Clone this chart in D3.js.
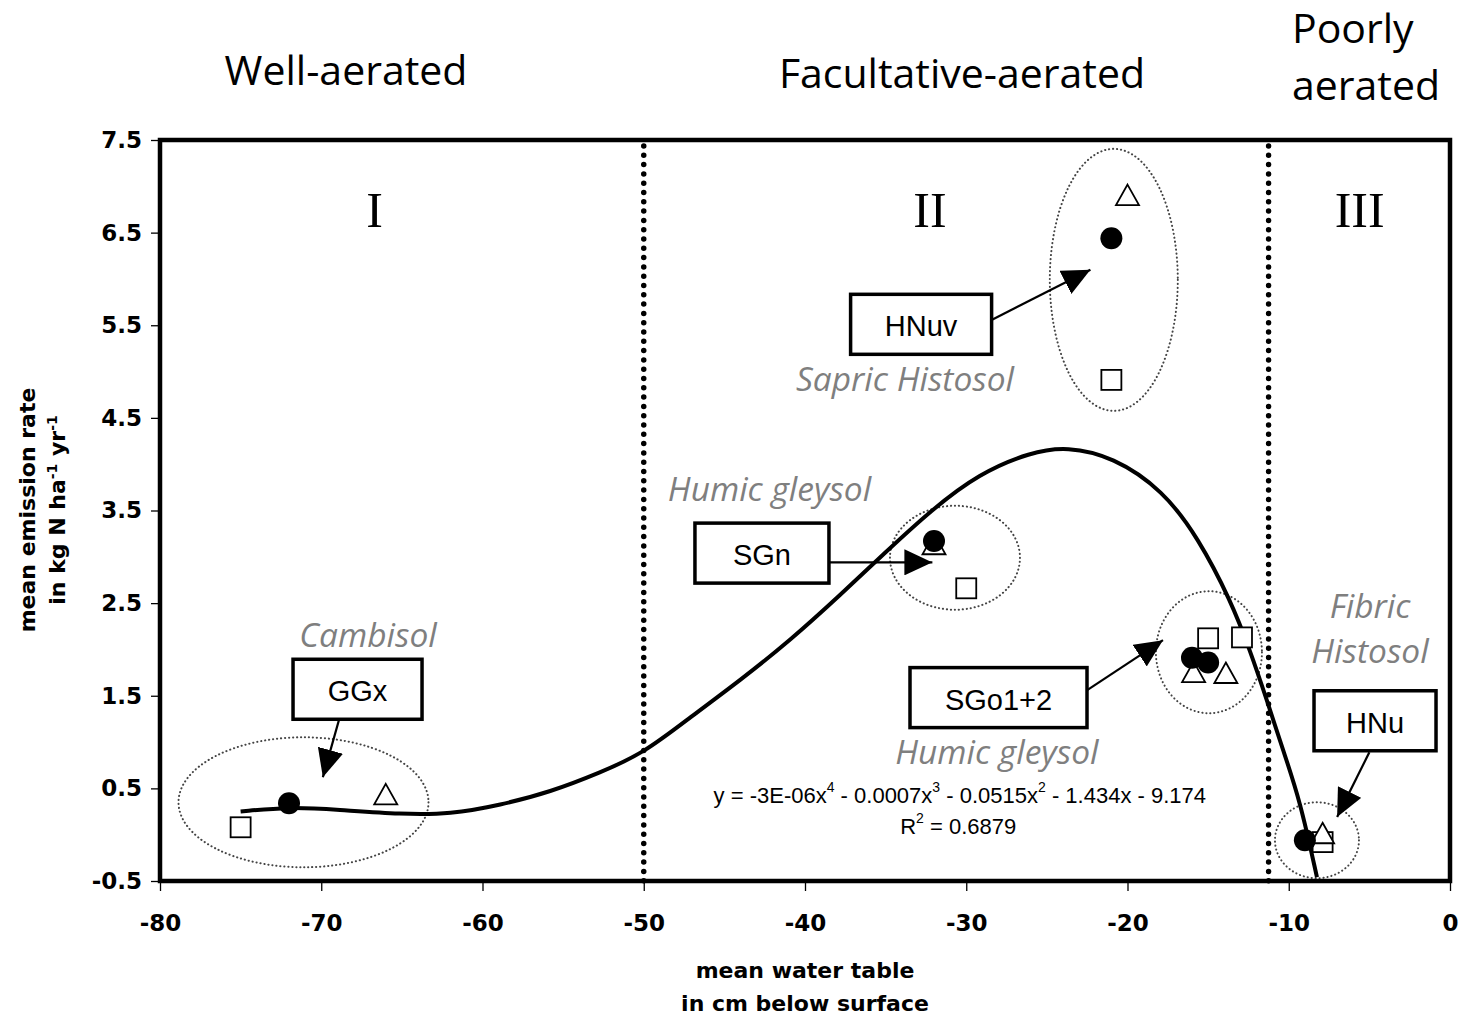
<!DOCTYPE html>
<html>
<head>
<meta charset="utf-8">
<title>N2O emission vs water table</title>
<script src="https://d3js.org/d3.v7.min.js"></script>
<style>
  body { margin: 0; background: #fff; }
</style>
</head>
<body>
<div id="chart"></div>
<script>

// fitted curve
const curveX = [-75, -72, -69, -65, -62, -58.9, -55.8, -52.7, -50, -47.1, -44, -40.9, -37.8, -35, -32.2, -29.2, -26, -23.75, -20.9, -17.8, -15.6, -13.6, -12.4, -11.35, -10.35, -9.3, -8.25];
const curveY = [0.25, 0.30, 0.27, 0.22, 0.22, 0.32, 0.46, 0.67, 0.88, 1.27, 1.67, 2.10, 2.59, 3.05, 3.50, 3.90, 4.13, 4.19, 4.08, 3.72, 3.20, 2.53, 1.99, 1.45, 0.91, 0.37, -0.46];

// measured points by symbol
const circleX = [-72.0, -32.0, -21.0, -16.0, -15.0, -9.0];
const circleY = [0.34, 3.17, 6.44, 1.91, 1.86, -0.06];
const triangleX = [-66.0, -32.0, -20.0, -15.9, -13.9, -7.9];
const triangleY = [0.43, 3.13, 6.90, 1.75, 1.74, 0.01];
const squareX = [-75.0, -30.0, -21.0, -15.0, -12.9, -7.9];
const squareY = [0.08, 2.66, 4.91, 2.12, 2.13, -0.08];

// site labels
const siteNames = ["GGx", "SGn", "HNuv", "SGo1+2", "HNu"];
const siteBoxX = [-67.75, -42.67, -32.8, -28.0, -4.65];
const siteBoxY = [1.57, 3.04, 5.51, 1.48, 1.23];
const arrowFromX = [-68.9, -38.5, -28.4, -22.5, -5.0];
const arrowFromY = [1.24, 2.94, 5.56, 1.56, 0.89];
const arrowToX = [-69.9, -32.1, -22.3, -17.8, -7.0];
const arrowToY = [0.62, 2.94, 6.10, 2.10, 0.19];
const groupX = [-71.1, -30.7, -20.85, -14.95, -8.25];
const groupY = [0.35, 2.99, 5.99, 1.97, -0.06];

// soil types
const soilNames = ["Cambisol", "Humic gleysol", "Sapric Histosol", "Fibric", "Histosol", "Humic gleysol"];
const soilX = [-67.1, -42.2, -33.8, -4.96, -4.96, -28.1];
const soilY = [2.17, 3.74, 4.93, 2.48, 1.99, 0.90];

// zones
const zoneBounds = [-50, -11.25];
const zoneNames = ["I", "II", "III"];
const zoneX = [-66.7, -32.25, -5.6];
const zoneY = 6.74;

const xTicks = [-80, -70, -60, -50, -40, -30, -20, -10, 0];
const yTicks = [-0.5, 0.5, 1.5, 2.5, 3.5, 4.5, 5.5, 6.5, 7.5];

// layout
const margin = { top: 140, right: 9, bottom: 135, left: 160 };
const W = 1459, H = 1016;
const width = W - margin.left - margin.right;
const height = H - margin.top - margin.bottom;

const svg = d3.select("#chart").append("svg")
    .attr("width", W)
    .attr("height", H);

const defs = svg.append("defs");
defs.append("marker")
    .attr("id", "head")
    .attr("markerUnits", "userSpaceOnUse")
    .attr("viewBox", "0 0 28 26")
    .attr("refX", 28).attr("refY", 13)
    .attr("markerWidth", 28).attr("markerHeight", 26)
    .attr("orient", "auto")
  .append("path")
    .attr("d", "M0,0 L28,13 L0,26 Z")
    .attr("fill", "#000");

const g = svg.append("g")
    .attr("transform", `translate(${margin.left},${margin.top})`);

const x = d3.scaleLinear().domain([-80, 0]).range([0, width]);
const y = d3.scaleLinear().domain([-0.5, 7.5]).range([height, 0]);

// axes
const xAxis = g.append("g")
    .attr("transform", `translate(0,${height})`)
    .call(d3.axisBottom(x).tickValues(xTicks).tickSize(10).tickPadding(24).tickFormat(d => String(d)));
const yAxis = g.append("g")
    .call(d3.axisLeft(y).tickValues(yTicks).tickSize(9).tickPadding(9).tickFormat(d => d.toFixed(1)));

[xAxis, yAxis].forEach(a => {
  a.select(".domain").remove();
  a.selectAll("line").attr("stroke", "#000").attr("stroke-width", 1.3);
  a.selectAll("text")
    .attr("fill", "#000")
    .style("font-family", "DejaVu Sans, sans-serif")
    .style("font-weight", "bold")
    .style("font-size", "23px");
});

// zone dividers
g.selectAll(".zone-line")
  .data(zoneBounds)
  .join("line")
    .attr("x1", d => x(d)).attr("x2", d => x(d))
    .attr("y1", 6).attr("y2", height)
    .attr("stroke", "#000")
    .attr("stroke-width", 5.5)
    .attr("stroke-linecap", "round")
    .attr("stroke-dasharray", "0 9.3");

// roman numerals
g.selectAll(".zone-name")
  .data(zoneNames)
  .join("text")
    .attr("x", (d, i) => x(zoneX[i]))
    .attr("y", y(zoneY))
    .attr("text-anchor", "middle")
    .attr("dominant-baseline", "central")
    .style("font-family", "Liberation Serif, serif")
    .style("font-size", "50px")
    .text(d => d);

// group ellipses
g.selectAll(".group")
  .data(groupX)
  .join("ellipse")
    .attr("cx", d => x(d))
    .attr("cy", (d, i) => y(groupY[i]))
    .attr("rx", (d, i) => [125, 65, 64, 53, 42][i])
    .attr("ry", (d, i) => [65, 52, 131, 61, 38][i])
    .attr("fill", "none")
    .attr("stroke", "#444")
    .attr("stroke-width", 2)
    .attr("stroke-linecap", "round")
    .attr("stroke-dasharray", "0.2 3.8");

// fitted curve
const curvePts = curveX.map((d, i) => [d, curveY[i]]);
g.append("path")
    .datum(curvePts)
    .attr("fill", "none")
    .attr("stroke", "#000")
    .attr("stroke-width", 4)
    .attr("d", d3.line().x(d => x(d[0])).y(d => y(d[1])).curve(d3.curveBasis));

// symbols
g.selectAll(".sq")
  .data(squareX)
  .join("rect")
    .attr("x", d => x(d) - 10)
    .attr("y", (d, i) => y(squareY[i]) - 10)
    .attr("width", 20).attr("height", 20)
    .attr("fill", "#fff")
    .attr("stroke", "#000")
    .attr("stroke-width", 1.8);

g.selectAll(".tri")
  .data(triangleX)
  .join("path")
    .attr("transform", (d, i) => `translate(${x(d)},${y(triangleY[i])})`)
    .attr("d", "M0,-11 L11.5,9.5 L-11.5,9.5 Z")
    .attr("fill", "#fff")
    .attr("stroke", "#000")
    .attr("stroke-width", 1.8);

g.selectAll(".dot")
  .data(circleX)
  .join("circle")
    .attr("cx", d => x(d))
    .attr("cy", (d, i) => y(circleY[i]))
    .attr("r", 11)
    .attr("fill", "#000");

// arrows
g.selectAll(".arrow")
  .data(arrowFromX)
  .join("line")
    .attr("x1", d => x(d))
    .attr("y1", (d, i) => y(arrowFromY[i]))
    .attr("x2", (d, i) => x(arrowToX[i]))
    .attr("y2", (d, i) => y(arrowToY[i]))
    .attr("stroke", "#000")
    .attr("stroke-width", 2.2)
    .attr("marker-end", "url(#head)");

// site boxes
const boxW = [129, 134, 141, 177, 122];
const boxes = g.selectAll(".box")
  .data(siteNames)
  .join("g")
    .attr("transform", (d, i) => `translate(${x(siteBoxX[i])},${y(siteBoxY[i])})`);
boxes.append("rect")
    .attr("x", (d, i) => -boxW[i] / 2)
    .attr("y", -30)
    .attr("width", (d, i) => boxW[i])
    .attr("height", 60)
    .attr("fill", "#fff")
    .attr("stroke", "#000")
    .attr("stroke-width", 3.5);
boxes.append("text")
    .attr("text-anchor", "middle")
    .attr("dominant-baseline", "central")
    .attr("y", 2)
    .style("font-family", "Liberation Sans, Arial, sans-serif")
    .style("font-size", "29px")
    .text(d => d);

// soil names
g.selectAll(".soil")
  .data(soilNames)
  .join("text")
    .attr("x", (d, i) => x(soilX[i]))
    .attr("y", (d, i) => y(soilY[i]))
    .attr("text-anchor", "middle")
    .attr("dominant-baseline", "central")
    .attr("fill", "#7f7f7f")
    .style("font-family", "Open Sans, sans-serif")
    .style("font-style", "italic")
    .style("font-size", "33.5px")
    .text(d => d);

// regression equation
const eq = g.append("text")
    .attr("x", x(-30.4)).attr("y", y(0.43))
    .attr("text-anchor", "middle")
    .attr("dominant-baseline", "central")
    .style("font-family", "Liberation Sans, Arial, sans-serif")
    .style("font-size", "22px");
const parts = [["y = -3E-06x", 0], ["4", 1], [" - 0.0007x", 0], ["3", 1], [" - 0.0515x", 0], ["2", 1], [" - 1.434x - 9.174", 0]];
parts.forEach(p => {
  eq.append("tspan")
    .attr("baseline-shift", p[1] ? "super" : null)
    .style("font-size", p[1] ? "14px" : null)
    .text(p[0]);
});
const r2 = g.append("text")
    .attr("x", x(-30.5)).attr("y", y(0.09))
    .attr("text-anchor", "middle")
    .attr("dominant-baseline", "central")
    .style("font-family", "Liberation Sans, Arial, sans-serif")
    .style("font-size", "22px");
r2.append("tspan").text("R");
r2.append("tspan").attr("baseline-shift", "super").style("font-size", "14px").text("2");
r2.append("tspan").text(" = 0.6879");

// frame
g.append("rect")
    .attr("width", width)
    .attr("height", height)
    .attr("fill", "none")
    .attr("stroke", "#000")
    .attr("stroke-width", 4.5);

// aeration headings
const head = svg.append("g")
    .style("font-family", "Open Sans, sans-serif")
    .style("font-size", "41px")
    .attr("fill", "#000");
head.append("text").attr("x", 346).attr("y", 85).attr("text-anchor", "middle").text("Well-aerated");
head.append("text").attr("x", 962).attr("y", 88).attr("text-anchor", "middle").text("Facultative-aerated");
head.append("text").attr("x", 1292).attr("y", 43).text("Poorly");
head.append("text").attr("x", 1292).attr("y", 100).text("aerated");

// axis titles
const axTitle = svg.append("g")
    .style("font-family", "DejaVu Sans, sans-serif")
    .style("font-weight", "bold")
    .style("font-size", "22px")
    .attr("text-anchor", "middle");
axTitle.append("text").attr("x", 805).attr("y", 978).text("mean water table");
axTitle.append("text").attr("x", 805).attr("y", 1011).text("in cm below surface");

const yt = axTitle.append("g").attr("transform", "translate(0,510) rotate(-90)");
yt.append("text").attr("x", 0).attr("y", 35).text("mean emission rate");
const yt2 = yt.append("text").attr("x", 0).attr("y", 65);
yt2.append("tspan").text("in kg N ha");
yt2.append("tspan").attr("baseline-shift", "super").style("font-size", "14px").text("-1");
yt2.append("tspan").text(" yr");
yt2.append("tspan").attr("baseline-shift", "super").style("font-size", "14px").text("-1");

</script>
</body>
</html>
